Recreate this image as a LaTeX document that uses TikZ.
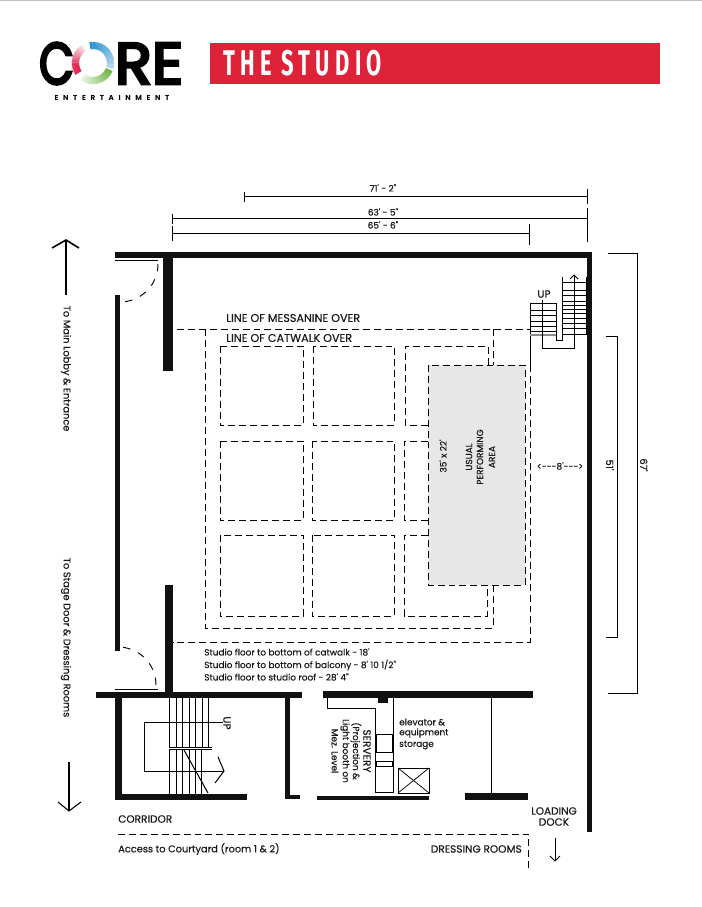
\documentclass[tikz,border=0pt]{standalone}
\usepackage{graphicx}
\usepackage{fontspec}
\setmainfont{Poppins}
\newfontfamily\labelfont[FakeBold=0.4]{Poppins}
\newfontfamily\logofont[FakeBold=5]{Poppins}
\newfontfamily\spacedfont[LetterSpace=64]{Poppins}
\newfontfamily\titlefont[LetterSpace=24]{Fira Sans}
\definecolor{headred}{HTML}{DE2238}
\definecolor{stagegrey}{HTML}{E6E7E6}
\definecolor{wallblack}{HTML}{111111}
\definecolor{logoblue}{HTML}{2A8FCF}
\definecolor{logored}{HTML}{E0264E}
\definecolor{logogreen}{HTML}{6DB33F}
\tikzset{
	wall/.style={fill=wallblack,draw=none},
	plan/.style={line width=0.75pt,black},
	thin plan/.style={line width=0.55pt,black},
	dash plan/.style={line width=0.75pt,black,dash pattern=on 5.2pt off 3pt},
	door/.style={line width=0.7pt,black,dash pattern=on 5.5pt off 6.3pt},
	label/.style={inner sep=0pt,font=\labelfont\fontsize{6.7pt}{8pt}\selectfont,text=black!90},
	side label/.style={label,font=\labelfont\fontsize{7.35pt}{8pt}\selectfont},
	caps label/.style={label,font=\labelfont\fontsize{7.9pt}{8pt}\selectfont},
	line label/.style={label,font=\labelfont\fontsize{8.4pt}{8pt}\selectfont},
	bar/.style={line width=0.7pt,black},
}
\begin{document}
\begin{tikzpicture}[x=0.75pt,y=-0.75pt]
	\useasboundingbox (0,0) rectangle (702,907);
	\draw[line width=0.5pt,black!25] (0,0.5) -- (702,0.5);
	\node[inner sep=0pt,font=\logofont] (logoC) at (56.5,63.5) {\resizebox{26pt}{31pt}{C}};
	\node[inner sep=0pt,font=\logofont] (logoRE) at (149,63.5) {\resizebox{51pt}{30.5pt}{RE}};
	\foreach \a in {100,96,...,-12} {
		\pgfmathsetmacro{\p}{35+(\a+12)*0.6}
		\draw[line width=5.4pt,logoblue!\p!white] (93,63)+({-\a}:17.5) arc ({-\a}:{-\a+4.5}:17.5);
	}
	\foreach \a in {122,126,...,212} {
		\pgfmathsetmacro{\p}{min(100,15+(\a-122)*1.3)}
		\draw[line width=5.4pt,logored!\p!white] (93,63)+({-\a}:17.5) arc ({-\a}:{-\a-4.5}:17.5);
	}
	\foreach \a in {-22,-26,...,-122} {
		\pgfmathsetmacro{\p}{100+(\a+22)*0.85}
		\draw[line width=5.4pt,logogreen!\p!white] (93,63)+({-\a}:17.5) arc ({-\a}:{-\a+4.5}:17.5);
	}
	\node[inner sep=0pt,font=\spacedfont\bfseries\fontsize{5.4pt}{6pt}\selectfont] (logoName) at (112,98) {ENTERTAINMENT};
	\fill[headred] (210,43) rectangle (660,84);
	\node[inner sep=0pt,text=white,font=\titlefont\bfseries] (titleName) at (302.5,63.5) {\resizebox{119pt}{19pt}{THE\hspace{0.45em}STUDIO}};

	\draw[bar] (244,196) -- (587,196);
	\draw[bar] (244,192) -- (244,202);
	\draw[bar] (587,189) -- (587,204);
	\draw[bar] (172,218) -- (587,218);
	\draw[bar] (172,214) -- (172,224);
	\draw[bar] (587,208) -- (587,242);
	\draw[bar] (172,233) -- (529,233);
	\draw[bar] (172,226) -- (172,241);
	\draw[bar] (529,224) -- (529,245);
	\node[label] (dimWide) at (383,188) {71' - 2"};
	\node[label] (dimMid) at (383,212) {63' - 5"};
	\node[label] (dimLow) at (383,225) {65' - 6"};

	\draw[bar] (608,253) -- (637,253) -- (637,693) -- (608,693);
	\draw[bar] (606,336) -- (617,336) -- (617,637) -- (606,637);
	\node[side label,rotate=-90] (dimDeep) at (644,465) {67'};
	\node[side label,rotate=-90] (dimStage) at (610,465) {51'};

	\fill[wall] (115,252) rectangle (592,258);
	\fill[wall] (587,258) rectangle (592,832);
	\fill[wall] (163,258) rectangle (173,371);
	\fill[wall] (115,295) rectangle (120,651);
	\fill[wall] (165,585) rectangle (173,692);
	\fill[wall] (96,692) rectangle (302,698);
	\fill[wall] (115,698) rectangle (122,800);
	\fill[wall] (115,794) rectangle (247,800);
	\fill[wall] (285,698) rectangle (290,799);
	\fill[wall] (285,795) rectangle (300,799);
	\fill[wall] (323,691) rectangle (533,698);
	\fill[wall] (378,698) rectangle (388,703);
	\fill[wall] (317,796) rectangle (429,800);
	\fill[wall] (465,793) rectangle (528,800);

	\draw[plan] (115,260) -- (158,260);
	\draw[door] (158,264) arc (0:90:38);
	\draw[plan] (115,689) -- (158,689);
	\draw[door] (156,685) arc (0:-90:38);

	\fill[stagegrey] (428,365) rectangle (525,585);
	\draw[dash plan] (177,329) -- (530,329);
	\draw[dash plan] (530,365) -- (530,642.5) -- (173,642.5);
	\draw[dash plan] (205,329) -- (205,628) -- (493,628) -- (493,585);
	\draw[dash plan] (493,329) -- (493,365);
	\draw[dash plan] (220,346) rectangle (303,425);
	\draw[dash plan] (313,346) rectangle (394,425);
	\draw[dash plan] (220,441) rectangle (303,520);
	\draw[dash plan] (312,441) rectangle (394,520);
	\draw[dash plan] (220,535) rectangle (303,616);
	\draw[dash plan] (312,535) rectangle (394,616);
	\draw[dash plan] (488,365) -- (488,346) -- (405,346) -- (405,425) -- (428,425);
	\draw[dash plan] (428,441) -- (404,441) -- (404,520) -- (428,520);
	\draw[dash plan] (428,535) -- (404,535) -- (404,616) -- (487,616) -- (487,585);
	\draw[dash plan] (428,365) rectangle (525,585);

	\draw[plan] (530,303) -- (530,365);
	\draw[plan] (530,303) -- (556,303) -- (556,340) -- (562,340) -- (562,277);
	\foreach \y in {310,315,321,326,331} {
		\draw[thin plan] (530,\y) -- (556,\y);
	}
	\draw[line width=1pt,black!45] (530,335) -- (556,335);
	\draw[plan] (586,277) -- (586,335);
	\foreach \y in {282,290,295,301,305,309,313,318,323,328,334} {
		\draw[thin plan] (562,\y) -- (586,\y);
	}
	\draw[plan] (542,300) -- (542,348) -- (574,348) -- (574,275);
	\draw[plan] (570,279) -- (574,275) -- (578,279);
	\node[caps label] (upTop) at (544,294) {UP};

	\foreach \x in {169.5,176,182.5,189,195.5,202,208.5} {
		\draw[thin plan] (\x,698) -- (\x,747.5);
	}
	\foreach \x in {169.5,176,182.5,189,195.5,201} {
		\draw[thin plan] (\x,749.5) -- (\x,794);
	}
	\draw[thin plan] (169,747.5) -- (212,747.5);
	\draw[thin plan] (169,749.5) -- (212,749.5);
	\draw[plan] (223,722) -- (144,722) -- (144,771) -- (224,771);
	\draw[plan] (218,757) -- (224,771) -- (215,783);
	\draw[plan] (184,750) -- (208,793);
	\node[caps label,rotate=-90] (upLow) at (227,723) {UP};

	\draw[plan] (327,698) -- (327,708) -- (375,708) -- (375,792) -- (393,792) -- (393,698);
	\draw[plan] (376,734) rectangle (392,752);
	\draw[plan] (376,761) rectangle (392,766);
	\draw[plan] (398,768) rectangle (429,793);
	\draw[thin plan] (398,768) -- (429,793);
	\draw[thin plan] (398,793) -- (429,768);
	\draw[plan] (491,698) -- (491,793);

	\draw[dash plan] (118,834) -- (528,834) -- (528,868);
	\draw[plan] (555,838) -- (555,861);
	\draw[plan] (550,856) -- (555,861) -- (560,856);

	\draw[line width=1.2pt] (66,295) -- (66,240);
	\draw[line width=1.2pt] (52,248) -- (66,240) -- (79,248);
	\draw[line width=0.8pt] (69,762) -- (69,811);
	\draw[line width=0.8pt] (58,802) -- (69,811) -- (81,802);
	\node[side label,rotate=-90] (toLobby) at (66,368.5) {To Main Lobby \& Entrance};
	\node[side label,rotate=-90] (toStage) at (66,637.5) {To Stage Door \& Dressing Rooms};

	\node[line label,anchor=west] (lineMezz) at (226,318) {LINE OF MESSANINE OVER};
	\node[line label,anchor=west] (lineCat) at (226,338) {LINE OF CATWALK OVER};
	\node[label,rotate=90] (stageSize) at (443,456) {35' x 22'};
	\node[label,rotate=90] (stageA) at (469,457) {USUAL};
	\node[label,rotate=90] (stageB) at (480,457) {PERFORMING};
	\node[label,rotate=90] (stageC) at (492,457) {AREA};
	\node[label] (widthEight) at (560,466) {<{-}{-}{-}8'{-}{-}{-}>};
	\node[label,anchor=west] (noteA) at (204,652) {Studio floor to bottom of catwalk - 18'};
	\node[label,anchor=west] (noteB) at (204,665) {Studio floor to bottom of balcony - 8' 10 1/2"};
	\node[label,anchor=west] (noteC) at (204,677) {Studio floor to studio roof - 28' 4"};
	\node[caps label,rotate=-90] (servA) at (367,751) {SERVERY};
	\node[label,rotate=-90] (servB) at (356,751) {(Projection \&};
	\node[label,rotate=-90] (servC) at (345,751) {Light booth on};
	\node[label,rotate=-90] (servD) at (335,751) {Mez. Level};
	\node[label,anchor=west] (liftA) at (399,722) {elevator \&};
	\node[label,anchor=west] (liftB) at (399,733) {equipment};
	\node[label,anchor=west] (liftC) at (399,745) {storage};
	\node[caps label] (dockA) at (554,811) {LOADING};
	\node[caps label] (dockB) at (554,822) {DOCK};
	\node[caps label,anchor=west] (corridor) at (118,819) {CORRIDOR};
	\node[side label,anchor=west] (access) at (118,849) {Access to Courtyard (room 1 \& 2)};
	\node[caps label,anchor=east] (dressing) at (522,849) {DRESSING ROOMS};
\end{tikzpicture}
\end{document}
